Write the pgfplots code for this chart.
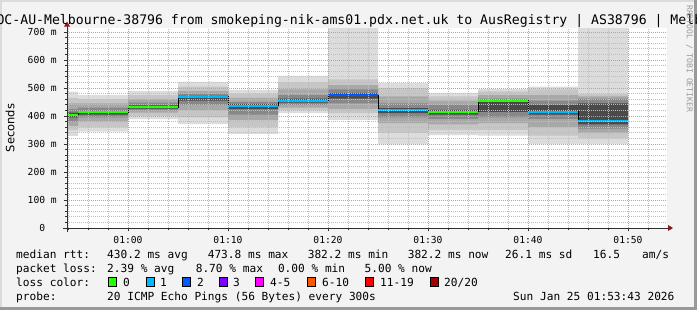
\documentclass[border=0pt]{standalone}
\usepackage{fontspec}
\usepackage{pgfplots}
\pgfplotsset{compat=1.18}
\usepackage{pgfplotstable}
\newfontfamily\mono{DejaVu Sans Mono}
\newfontfamily\sansf{DejaVu Sans}
\definecolor{bgc}{HTML}{F3F3F3}
\definecolor{s1}{HTML}{DCDCDC}
\definecolor{s2}{HTML}{C6C6C6}
\definecolor{s3}{HTML}{A8A8A8}
\definecolor{s4}{HTML}{888888}
\definecolor{s5}{HTML}{4A4A4A}
\definecolor{lc0}{HTML}{26FF00}
\definecolor{lc1}{HTML}{00B8FF}
\definecolor{lc2}{HTML}{0059FF}
\definecolor{lc3}{HTML}{7E00FF}
\definecolor{lc4}{HTML}{FF00FF}
\definecolor{lc6}{HTML}{FF5500}
\definecolor{lc11}{HTML}{FF0000}
\definecolor{lc20}{HTML}{A10000}
\definecolor{majg}{HTML}{EE8C8C}
\definecolor{ming}{HTML}{BEBEBE}
\definecolor{axc}{HTML}{303030}
\definecolor{arc}{HTML}{8B1A1A}

% median rtt (ms); time in minutes after 01:00, each value holds from t to the next t
\pgfplotstableread{
t    med
-6.1 404
-5   414
0    432
5    468
10   437
15   455
20   474
25   421
30   415
35   455
40   415
45   382.2
50   382.2
}\median

\begin{document}
\begin{tikzpicture}[x=1bp,y=1bp]
\fill[bgc] (0,0) rectangle (697,310);
\fill[black!14] (0,0) rectangle (2,310);
\fill[black!14] (0,308) rectangle (697,310);
\fill[black!40] (693.5,0) rectangle (697,310);
\fill[black!40] (0,0) rectangle (697,3.5);

\begin{axis}[
  at={(67bp,82bp)}, anchor=south west,
  scale only axis, width=600bp, height=200bp,
  xmin=-6.1, xmax=53.9, ymin=0, ymax=714.3,
  axis background/.style={fill=white},
  axis on top,
  separate axis lines,
  axis x line*=bottom, axis y line*=left,
  axis line style={draw=none},
  xtick={0,10,20,30,40,50},
  xticklabels={01:00,01:10,01:20,01:30,01:40,01:50},
  minor xtick={-6,-4,-2,2,4,6,8,12,14,16,18,22,24,26,28,32,34,36,38,42,44,46,48,52},
  ytick={0,100,...,700},
  yticklabels={0\hphantom{00},100 m,200 m,300 m,400 m,500 m,600 m,700 m},
  minor ytick={20,40,60,80,120,140,160,180,220,240,260,280,320,340,360,380,420,440,460,480,520,540,560,580,620,640,660,680},
  grid=both,
  major grid style={majg, line width=1bp, dash pattern=on 1bp off 1bp},
  minor grid style={ming, line width=1bp, dash pattern=on 1bp off 1bp},
  tick align=outside,
  major tick length=3bp, minor tick length=2bp,
  tick style={axc, line width=0.8bp},
  ticklabel style={font=\mono\fontsize{9.7}{10}\selectfont, inner sep=0pt, text=black},
  xticklabel style={anchor=base, yshift=-12.7bp},
  yticklabel style={anchor=base east, xshift=-7bp, yshift=-3bp},
]
% smoke: nested bands of the 20 pings per 5-minute step (outer = min..max)
\addplot[fill=s1, draw=none, forget plot] coordinates {
(-6.1,487)(-5,487)(-5,475)(0,475)(0,490)(5,490)(5,522)(10,522)(10,493)(15,493)(15,543)(20,543)(20,714.3)(25,714.3)(25,517)(30,517)(30,483)(35,483)(35,496)(40,496)(40,505)(45,505)(45,714.3)(50,714.3)
(50,300)(45,300)(45,300)(40,300)(40,330)(35,330)(35,332)(30,332)(30,299)(25,299)(25,386)(20,386)(20,410)(15,410)(15,336)(10,336)(10,371)(5,371)(5,389)(0,389)(0,344)(-5,344)(-5,329)(-6.1,329)
} -- cycle;
\addplot[fill=s2, draw=none, forget plot] coordinates {
(-6.1,465)(-5,465)(-5,460)(0,460)(0,475)(5,475)(5,505)(10,505)(10,480)(15,480)(15,520)(20,520)(20,531)(25,531)(25,500)(30,500)(30,470)(35,470)(35,488)(40,488)(40,495)(45,495)(45,478)(50,478)
(50,320)(45,320)(45,330)(40,330)(40,350)(35,350)(35,350)(30,350)(30,340)(25,340)(25,410)(20,410)(20,420)(15,420)(15,360)(10,360)(10,395)(5,395)(5,400)(0,400)(0,360)(-5,360)(-5,350)(-6.1,350)
} -- cycle;
\addplot[fill=s3, draw=none, forget plot] coordinates {
(-6.1,445)(-5,445)(-5,445)(0,445)(0,460)(5,460)(5,490)(10,490)(10,465)(15,465)(15,495)(20,495)(20,510)(25,510)(25,470)(30,470)(30,455)(35,455)(35,475)(40,475)(40,475)(45,475)(45,470)(50,470)
(50,340)(45,340)(45,360)(40,360)(40,375)(35,375)(35,370)(30,370)(30,375)(25,375)(25,425)(20,425)(20,430)(15,430)(15,385)(10,385)(10,420)(5,420)(5,412)(0,412)(0,380)(-5,380)(-5,365)(-6.1,365)
} -- cycle;
\addplot[fill=s4, draw=none, forget plot] coordinates {
(-6.1,425)(-5,425)(-5,430)(0,430)(0,448)(5,448)(5,480)(10,480)(10,450)(15,450)(15,475)(20,475)(20,495)(25,495)(25,445)(30,445)(30,440)(35,440)(35,462)(40,462)(40,455)(45,455)(45,462)(50,462)
(50,355)(45,355)(45,390)(40,390)(40,395)(35,395)(35,390)(30,390)(30,395)(25,395)(25,445)(20,445)(20,440)(15,440)(15,405)(10,405)(10,440)(5,440)(5,420)(0,420)(0,395)(-5,395)(-5,380)(-6.1,380)
} -- cycle;
\addplot[fill=s5, draw=none, forget plot] coordinates {
(-6.1,412)(-5,412)(-5,418)(0,418)(0,438)(5,438)(5,472)(10,472)(10,442)(15,442)(15,462)(20,462)(20,482)(25,482)(25,428)(30,428)(30,422)(35,422)(35,457)(40,457)(40,440)(45,440)(45,445)(50,445)
(50,370)(45,370)(45,405)(40,405)(40,415)(35,415)(35,405)(30,405)(30,410)(25,410)(25,462)(20,462)(20,448)(15,448)(15,425)(10,425)(10,455)(5,455)(5,426)(0,426)(0,405)(-5,405)(-5,395)(-6.1,395)
} -- cycle;
% median connector
\addplot[const plot, black, line width=1bp, forget plot] table[x=t,y=med]{\median};
% median by loss colour
\addplot[lc0, line width=2bp, unbounded coords=jump, forget plot] coordinates {
 (-6.1,404) (-5,404) (-5,nan) (-5,414) (0,414) (0,nan) (0,432) (5,432) (5,nan)
 (30,415) (35,415) (35,nan) (35,455) (40,455)};
\addplot[lc1, line width=2bp, unbounded coords=jump, forget plot] coordinates {
 (5,468) (10,468) (10,nan) (10,437) (15,437) (15,nan) (15,455) (20,455) (20,nan)
 (25,421) (30,421) (30,nan) (40,415) (45,415) (45,nan) (45,382.2) (50,382.2)};
\addplot[lc2, line width=2bp, forget plot] coordinates {(20,474) (25,474)};
\end{axis}

% axis lines with arrows
\draw[axc, line width=1bp] (67,78) -- (67,284);
\fill[arc] (64,283.5) -- (70,283.5) -- (67,288.5) -- cycle;
\draw[axc, line width=1bp] (63,82) -- (668,82);
\fill[arc] (668,79) -- (668,85) -- (673,82) -- cycle;

% title
\begin{scope}
\clip (0,0) rectangle (697,310);
\node[anchor=base west, inner sep=0pt, font=\mono\fontsize{13.22}{14}\selectfont] at (-3.66,286)
  {OC-AU-Melbourne-38796 from smokeping-nik-ams01.pdx.net.uk to AusRegistry | AS38796 | Melbourne};
\end{scope}

% watermark
\node[rotate=-90, anchor=west, inner sep=0pt, text=black!40, font=\mono\fontsize{8.1}{9}\selectfont] at (689.5,305) {RRDTOOL / TOBI OETIKER};

% y label
\node[rotate=90, inner sep=0pt, font=\sansf\fontsize{11.5}{12}\selectfont] at (10.2,182) {Seconds};

% legend
\begin{scope}[every node/.style={anchor=base west, inner sep=0pt, font=\mono\fontsize{11.2}{12}\selectfont}]
\node at (16,52) {median rtt:};
\node at (107,52) {430.2 ms avg};
\node at (207.6,52) {473.8 ms max};
\node at (307.6,52) {382.2 ms min};
\node at (407.6,52) {382.2 ms now};
\node at (505,52) {26.1 ms sd};
\node at (593,52) {16.5};
\node at (642,52) {am/s};

\node at (16,38) {packet loss:};
\node at (107,38) {2.39 \% avg};
\node at (195.6,38) {8.70 \% max};
\node at (277.8,38) {0.00 \% min};
\node at (364.4,38) {5.00 \% now};

\node at (16,24) {loss color:};
\node at (123,24) {0};
\node at (160,24) {1};
\node at (197,24) {2};
\node at (233,24) {3};
\node at (270,24) {4-5};
\node at (322,24) {6-10};
\node at (380,24) {11-19};
\node at (444,24) {20/20};

\node at (16,10) {probe:};
\node at (107,10) {20 ICMP Echo Pings (56 Bytes) every 300s};
\node at (513,10) {Sun Jan 25 01:53:43 2026};
\end{scope}
\begin{scope}[line width=1bp, draw=black]
\filldraw[fill=lc0] (108.5,24) rectangle (116.5,33);
\filldraw[fill=lc1] (146,24) rectangle (154,33);
\filldraw[fill=lc2] (182.5,24) rectangle (190.5,33);
\filldraw[fill=lc3] (219,24) rectangle (227,33);
\filldraw[fill=lc4] (255.6,24) rectangle (263.6,33);
\filldraw[fill=lc6] (307.6,24) rectangle (315.6,33);
\filldraw[fill=lc11] (365,24) rectangle (373,33);
\filldraw[fill=lc20] (430,24) rectangle (438,33);
\end{scope}

\pgfresetboundingbox
\useasboundingbox (0,0) rectangle (697,310);
\end{tikzpicture}
\end{document}
